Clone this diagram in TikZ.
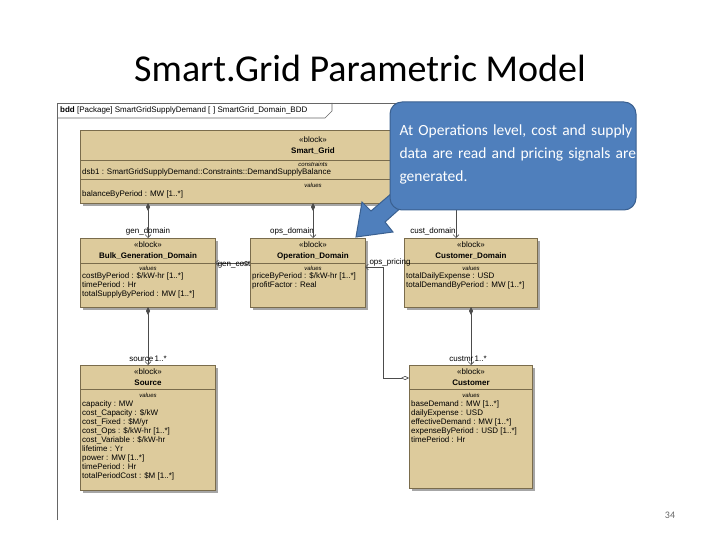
\documentclass[tikz,border=0pt]{standalone}
\usepackage{fontspec}
\setmainfont{Liberation Sans}
\newfontfamily\calib{Carlito}
\usetikzlibrary{arrows.meta}
\definecolor{tan}{HTML}{DDCB9C}
\definecolor{tanb}{HTML}{7A6C4C}
\definecolor{cblue}{HTML}{4F7FBC}
\definecolor{cbord}{HTML}{3A6090}
\tikzset{
 blk/.style={fill=tan,draw=tanb,line width=0.6pt},
 shd/.style={fill=black!35},
 sep/.style={draw=tanb,line width=0.5pt},
 att/.style={anchor=west,inner sep=0pt,font=\fontsize{8}{8}\selectfont},
 ctr/.style={inner sep=0pt,font=\fontsize{8}{8}\selectfont},
 cmp/.style={inner sep=0pt,font=\fontsize{6}{6}\selectfont\itshape},
 lab/.style={inner sep=0pt,font=\fontsize{8}{8}\selectfont},
 conn/.style={draw=black!70,line width=0.6pt},
}
\begin{document}
\begin{tikzpicture}[x=1pt,y=-1pt]
\useasboundingbox (0,0) rectangle (720,540);
\node[font=\calib\fontsize{38}{40}\selectfont] (title) at (360,68) {Smart.Grid Parametric Model};
\node[font=\calib\fontsize{10}{10}\selectfont,text=black!60] (pg) at (670,515) {34};
% frame
\draw[black!60,line width=0.6pt] (57,520) -- (57,103) -- (400,103);
\draw[black!60,line width=0.6pt] (57,118) -- (325,118) -- (332,111) -- (332,103);
\node[anchor=west,inner sep=0pt,font=\fontsize{8}{8}\selectfont] (hdr) at (60,110.5) {\textbf{bdd} [Package] SmartGridSupplyDemand [\,\,] SmartGrid\_Domain\_BDD};
% shadows
\fill[shd] (83,133) rectangle (403,206);
\fill[shd] (83,241) rectangle (218,310);
\fill[shd] (253,241) rectangle (368,310);
\fill[shd] (407,241) rectangle (540,310);
\fill[shd] (83,368) rectangle (218,493);
\fill[shd] (412,368) rectangle (535,491);
% Smart_Grid
\draw[blk] (80,130) rectangle (400,203);
\draw[sep] (80,160) -- (400,160); \draw[sep] (80,179) -- (400,179);
\node[ctr] (sgs) at (313,140) {«block»};
\node[ctr,font=\fontsize{8}{8}\selectfont\bfseries] (sgn) at (313,151) {Smart\_Grid};
\node[cmp] (sgc) at (313,164) {constraints};
\node[att] (sga) at (82,172) {dsb1 : SmartGridSupplyDemand::Constraints::DemandSupplyBalance};
\node[cmp] (sgv) at (313,185) {values};
\node[att] (sgb) at (82,194) {balanceByPeriod : MW [1..*]};
% Bulk
\draw[blk] (80,238) rectangle (215,307);
\draw[sep] (80,263) -- (215,263);
\node[ctr] at (148,245) {«block»};
\node[ctr,font=\fontsize{8}{8}\selectfont\bfseries] at (148,256) {Bulk\_Generation\_Domain};
\node[cmp] at (148,268) {values};
\node[att] at (82,276) {costByPeriod : \$/kW-hr [1..*]};
\node[att] at (82,285) {timePeriod : Hr};
\node[att] at (82,294) {totalSupplyByPeriod : MW [1..*]};
% Operation
\draw[blk] (250,238) rectangle (365,307);
\draw[sep] (250,263) -- (365,263);
\node[ctr] at (313,245) {«block»};
\node[ctr,font=\fontsize{8}{8}\selectfont\bfseries] at (313,256) {Operation\_Domain};
\node[cmp] at (313,268) {values};
\node[att] at (252,276) {priceByPeriod : \$/kW-hr [1..*]};
\node[att] at (252,285) {profitFactor : Real};
% Customer_Domain
\draw[blk] (404,238) rectangle (537,307);
\draw[sep] (404,263) -- (537,263);
\node[ctr] at (471,245) {«block»};
\node[ctr,font=\fontsize{8}{8}\selectfont\bfseries] at (471,256) {Customer\_Domain};
\node[cmp] at (471,268) {values};
\node[att] at (406,276) {totalDailyExpense : USD};
\node[att] at (406,285) {totalDemandByPeriod : MW [1..*]};
% Source
\draw[blk] (80,365) rectangle (215,490);
\draw[sep] (80,389) -- (215,389);
\node[ctr] at (148,372) {«block»};
\node[ctr,font=\fontsize{8}{8}\selectfont\bfseries] at (148,383) {Source};
\node[cmp] at (148,395) {values};
\foreach \t [count=\i] in {capacity : MW,cost\_Capacity : \$/kW,cost\_Fixed : \$M/yr,cost\_Ops : \$/kW-hr [1..*],cost\_Variable : \$/kW-hr,lifetime : Yr,power : MW [1..*],timePeriod : Hr,totalPeriodCost : \$M [1..*]}
  \node[att] at (82,395+9*\i) {\t};
% Customer
\draw[blk] (409,365) rectangle (532,488);
\draw[sep] (409,389) -- (532,389);
\node[ctr] at (471,372) {«block»};
\node[ctr,font=\fontsize{8}{8}\selectfont\bfseries] at (471,383) {Customer};
\node[cmp] at (471,395) {values};
\foreach \t [count=\i] in {baseDemand : MW [1..*],dailyExpense : USD,effectiveDemand : MW [1..*],expenseByPeriod : USD [1..*],timePeriod : Hr}
  \node[att] at (411,395+9*\i) {\t};
% connectors
\coordinate (a1) at (148,203); \coordinate (a2) at (148,238);
\coordinate (b1) at (313,203); \coordinate (b2) at (313,238);
\coordinate (c1) at (456,210); \coordinate (c2) at (456,238);
\coordinate (d1) at (148,307); \coordinate (d2) at (148,365);
\coordinate (e1) at (471,307); \coordinate (e2) at (471,365);
\draw[conn,{Diamond[fill=black!70,length=8pt,width=4pt]}-{Straight Barb[length=3pt]}] (a1) -- (a2);
\draw[conn,{Diamond[fill=black!70,length=8pt,width=4pt]}-{Straight Barb[length=3pt]}] (b1) -- (b2);
\draw[conn,-{Straight Barb[length=3pt]}] (c1) -- (c2);
\draw[conn,{Diamond[fill=black!70,length=8pt,width=4pt]}-{Straight Barb[length=3pt]}] (d1) -- (d2);
\draw[conn,{Diamond[fill=black!70,length=8pt,width=4pt]}-{Straight Barb[length=3pt]}] (e1) -- (e2);
\coordinate (g1) at (250,263); \coordinate (g2) at (215,263);
\draw[conn,{Diamond[open,fill=white,length=8pt,width=4pt]}-{Straight Barb[length=3pt]}] (g1) -- (g2);
\coordinate (p1) at (409,378); \coordinate (p2) at (365,267);
\draw[conn,{Diamond[open,fill=white,length=8pt,width=4pt]}-{Straight Barb[length=3pt]}] (p1) -- (383,378) -- (383,267) -- (p2);
\node[lab,anchor=south] at (148,235) {gen\_domain};
\node[lab,anchor=south] at (292,235) {ops\_domain};
\node[lab,anchor=south] at (433,235) {cust\_domain};
\node[lab,anchor=south] at (148,362) {source\,1..*};
\node[lab,anchor=south] at (468,362) {custmr\,1..*};
\node[lab,anchor=south] at (234,268) {gen\_cost};
\node[lab,anchor=south] at (390,266) {ops\_pricing};
% callout
\fill[cblue,draw=cbord,line width=1pt] (395,195) -- (404,205) -- (385,222) -- (393,232) -- (356,237) -- (362,202) -- (371,211) -- (392,193) -- cycle;
\draw[fill=cblue,draw=cbord,line width=1pt,rounded corners=12pt] (390,102) rectangle (636,210);
\node[anchor=north west,text width=240pt,align=left,text=white,font=\calib\fontsize{15.5}{23}\selectfont] (call) at (396,121) {At Operations level, cost and supply data are read and pricing signals are generated.};
\end{tikzpicture}
\end{document}
